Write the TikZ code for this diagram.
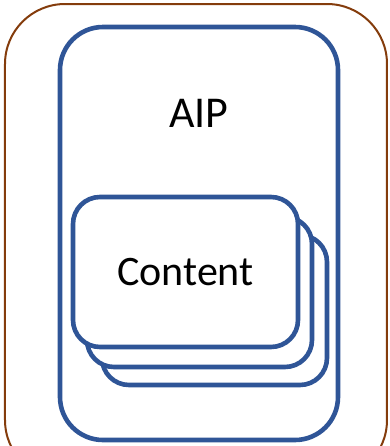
\documentclass[tikz,border=0pt]{standalone}
\usepackage{fontspec}
\setmainfont{Carlito}
\usepackage{xcolor}
\usetikzlibrary{positioning}
\definecolor{boxblue}{HTML}{2F5597}
\definecolor{boxbrown}{HTML}{843C0C}

\begin{document}
\begin{tikzpicture}[x=0.5pt, y=-0.5pt,
    package/.style={draw=boxbrown, line width=1pt, rounded corners=30pt,
        minimum width=191pt, minimum height=238pt},
    aip/.style={draw=boxblue, line width=2.3pt, rounded corners=21.5pt,
        minimum width=139pt, minimum height=206.5pt},
    content/.style={draw=boxblue, fill=white, line width=2.3pt, rounded corners=13.5pt,
        minimum width=112.5pt, minimum height=75pt, font=\fontsize{21}{25}\selectfont}
]
    \useasboundingbox (0, 0) rectangle (390, 446);
    \clip (0, 0) rectangle (390, 446);
    \node[package] (pkg) at (196, 242) {};
    \node[aip] (aip) at (199, 233.5) {};
    \node[font=\fontsize{22}{26}\selectfont] (aiplabel) at (199, 113) {AIP};
    \node[content] (c3) at (214.5, 310) {};
    \node[content] (c2) at (199.5, 292) {};
    \node[content] (c1) at (185.5, 272) {Content};
\end{tikzpicture}
\end{document}
